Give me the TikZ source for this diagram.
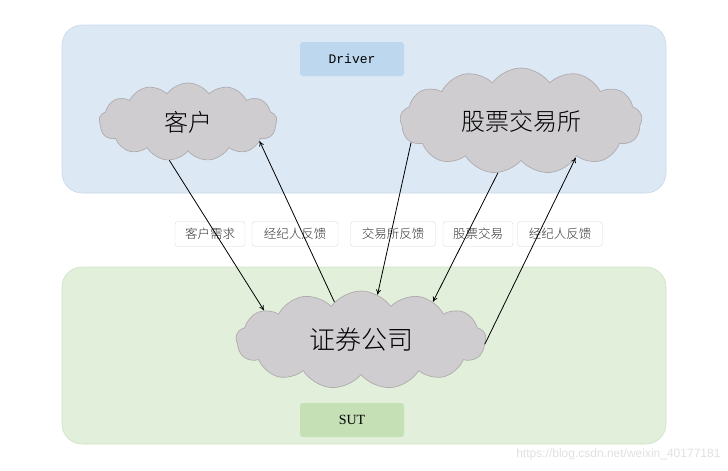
\documentclass[tikz,border=0pt]{standalone}
\usepackage{fontspec}
\setmainfont{Liberation Serif}
\newfontfamily\cjk{Noto Sans CJK SC}
\newfontfamily\cjkl{Noto Sans CJK SC Light}
\newfontfamily\monof{Liberation Mono}
\newfontfamily\sansf{Liberation Sans}
\usetikzlibrary{shapes.symbols,arrows.meta}
\definecolor{panelblue}{HTML}{DDE8F5}
\definecolor{panelblueb}{HTML}{C9D9EC}
\definecolor{panelgreen}{HTML}{E2EFDA}
\definecolor{panelgreenb}{HTML}{CFE2C4}
\definecolor{tagblue}{HTML}{BDD7EE}
\definecolor{taggreen}{HTML}{C5E0B4}
\definecolor{cloudfill}{HTML}{CFCDCF}
\definecolor{cloudline}{HTML}{AEACAE}
\tikzset{
  panel/.style={rounded corners=20pt,line width=0.6pt},
  tag/.style={rounded corners=3pt,minimum width=104pt,minimum height=34pt,inner sep=0pt},
  cloudbox/.style={cloud,cloud puffs=13,cloud puff arc=110,cloud ignores aspect,fill=cloudfill,draw=cloudline,line width=0.7pt,inner sep=0pt,font=\cjk},
  lbl/.style={draw=black!15,fill=white,rounded corners=3pt,font=\cjkl\fontsize{12.5}{14}\selectfont,inner sep=0pt,minimum height=25pt,text=black!80},
  arr/.style={-{To[length=5pt,width=5pt]},line width=0.8pt}
}
\begin{document}
\begin{tikzpicture}[x=1pt,y=1pt]
\useasboundingbox (0,0) rectangle (728,-471);
\draw[panel,fill=panelblue,draw=panelblueb] (62,-25) rectangle (666,-193);
\draw[panel,fill=panelgreen,draw=panelgreenb] (62,-267) rectangle (666,-444);
\node[tag,fill=tagblue,font=\monof\fontsize{13}{15}\selectfont] (drv) at (352,-59) {Driver};
\node[tag,fill=taggreen,font=\fontsize{14}{16}\selectfont] (sut) at (352,-420) {SUT};
\node[cloudbox,minimum width=178pt,minimum height=78pt,font=\cjkl\fontsize{24}{26}\selectfont] (kh) at (188,-122) {客户};
\node[cloudbox,minimum width=242pt,minimum height=106pt,font=\cjkl\fontsize{24}{26}\selectfont] (jys) at (521,-121) {股票交易所};
\node[cloudbox,minimum width=250pt,minimum height=98pt,font=\cjkl\fontsize{26}{28}\selectfont] (zq) at (361,-340) {证券公司};
\node[lbl,minimum width=70pt] (l1) at (210,-234) {客户需求};
\node[lbl,minimum width=86pt] (l2) at (295,-234) {经纪人反馈};
\node[lbl,minimum width=85pt] (l3) at (393,-234) {交易所反馈};
\node[lbl,minimum width=70pt] (l4) at (478,-234) {股票交易};
\node[lbl,minimum width=85pt] (l5) at (560,-234) {经纪人反馈};
\draw[arr] (kh.244) -- (zq.163);
\draw[arr] (zq.125) -- (kh.-15);
\draw[arr] (jys.191) -- (zq.70);
\draw[arr] (jys.246) -- (zq.28);
\draw[arr] (zq.-2) -- (jys.-34);
\node[font=\sansf\fontsize{12}{14}\selectfont,text=black!12,anchor=east] (wm) at (724,-454) {https://blog.csdn.net/weixin\_40177181};
\end{tikzpicture}
\end{document}
